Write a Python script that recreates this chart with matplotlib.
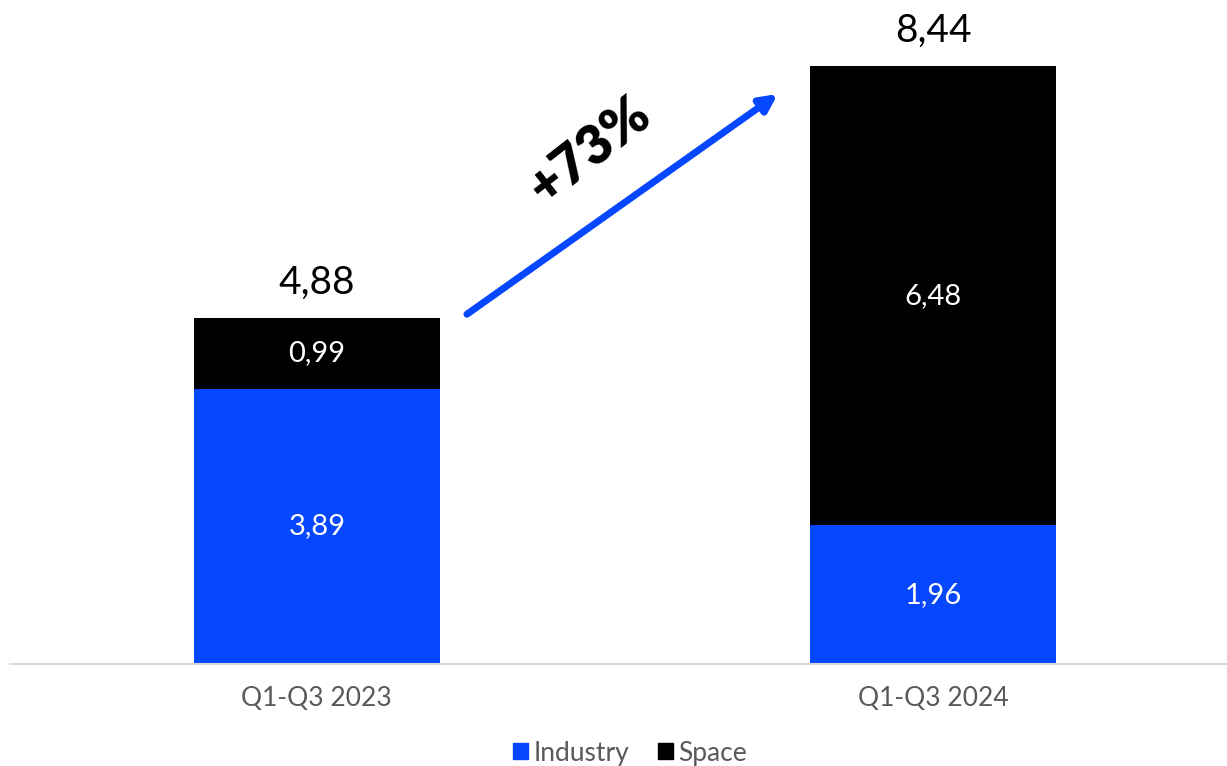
import matplotlib
matplotlib.use("Agg")
import matplotlib.pyplot as plt
from matplotlib.patches import Patch

plt.rcParams['font.family'] = ['Lato', 'DejaVu Sans']

periods = ["Q1-Q3 2023", "Q1-Q3 2024"]
industry = [3.89, 1.96]
space = [0.99, 6.48]
totals = [4.88, 8.44]
growth_label = "+73%"

BLUE = '#0546FF'
BLACK = '#000000'


def fmt(v):
    return f"{v:.2f}".replace(".", ",")


fig = plt.figure(figsize=(12.27, 7.66), dpi=100)
ax = fig.add_axes([10 / 1227, 102 / 766, 1217 / 1227, 664 / 766])

x = [0, 1]
ax.bar(x, industry, width=0.4, color=BLUE, label="Industry")
ax.bar(x, space, width=0.4, bottom=industry, color=BLACK, label="Space")

for i in range(len(x)):
    ax.text(x[i], industry[i] / 2, fmt(industry[i]), color='white',
            ha='center', va='center', fontsize=21)
    ax.text(x[i], industry[i] + space[i] / 2, fmt(space[i]), color='white',
            ha='center', va='center', fontsize=21)
    ax.text(x[i], totals[i] + 0.25, fmt(totals[i]), color='black',
            ha='center', va='bottom', fontsize=28)

# growth arrow
ax.annotate("", xy=(0.748, 8.05), xytext=(0.2435, 4.94),
            arrowprops=dict(arrowstyle='-|>,head_length=1.0,head_width=0.5',
                            color=BLUE, lw=5, shrinkA=0, shrinkB=0))
ax.text(0.443, 7.25, growth_label, rotation=38, ha='center', va='center',
        fontsize=39, fontweight='heavy', color='black', rotation_mode='anchor')

ax.set_xlim(-0.498, 1.477)
ax.set_ylim(0, 9.378)
ax.set_xticks(x)
ax.set_xticklabels(periods, fontsize=19, color='#595959')
ax.tick_params(axis='x', length=0, pad=16)
ax.set_yticks([])
for s in ['top', 'right', 'left']:
    ax.spines[s].set_visible(False)
ax.spines['bottom'].set_color('#D9D9D9')
ax.spines['bottom'].set_linewidth(1.5)

handles = [Patch(color=BLUE, label="Industry"), Patch(color=BLACK, label="Space")]
leg = fig.legend(handles=handles, loc='center', bbox_to_anchor=(630 / 1227, 1 - 753 / 766),
                 ncol=2, frameon=False, fontsize=19, handlelength=0.55, handleheight=0.55,
                 handletextpad=0.2, columnspacing=1.1)
for t in leg.get_texts():
    t.set_color('#595959')

fig.savefig('out.png', dpi=100)
